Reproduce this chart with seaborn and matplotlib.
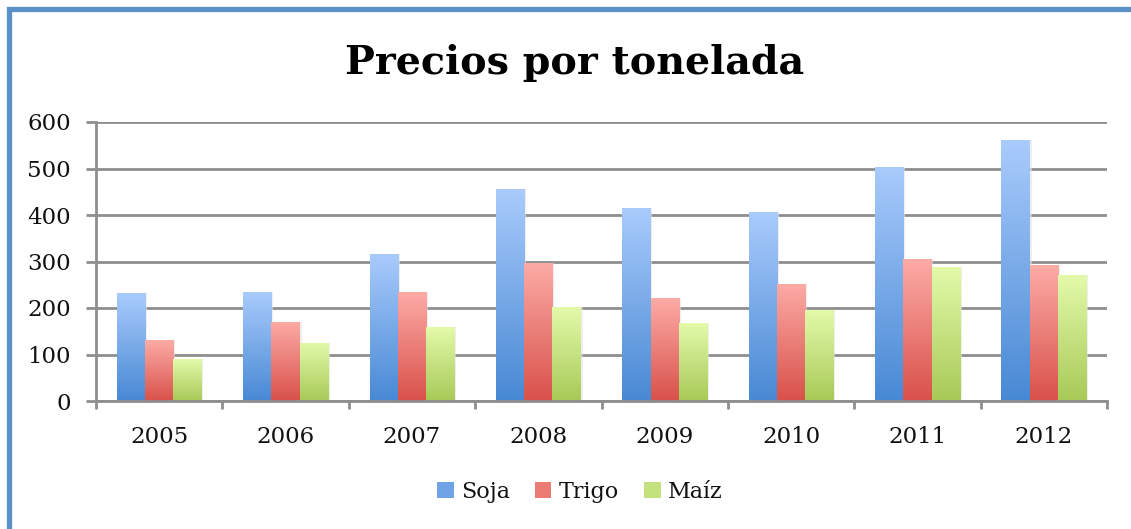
import numpy as np
import pandas as pd
import matplotlib
matplotlib.use("Agg")
import matplotlib.pyplot as plt
import seaborn as sns
from matplotlib.colors import LinearSegmentedColormap
from matplotlib.patches import Patch
from matplotlib.lines import Line2D

# ---------- DATA ----------
years = ["2005", "2006", "2007", "2008", "2009", "2010", "2011", "2012"]
soja = [232, 234, 316, 455, 414, 406, 504, 561]
trigo = [131, 170, 234, 297, 221, 252, 305, 292]
maiz = [90, 125, 159, 202, 167, 195, 288, 270]
series = ["Soja", "Trigo", "Maíz"]

df = pd.DataFrame({
    "Año": years * 3,
    "Precio": soja + trigo + maiz,
    "Cultivo": [s for s in series for _ in years],
})

# gradient colours (top, bottom, legend) per series
grad = {
    "Soja": ("#a9cbfc", "#4889d4", "#6fa3e6"),
    "Trigo": ("#fdaba6", "#d8514a", "#eb7a74"),
    "Maíz": ("#e3faaa", "#a8c957", "#c3e17c"),
}

sns.set_theme(style="white")
plt.rcParams["font.family"] = ["DejaVu Serif"]

fig = plt.figure(figsize=(11.31, 5.29), dpi=100)
ax = fig.add_axes([96 / 1131, 1 - 401 / 529, (1107 - 96) / 1131, (401 - 122) / 529])

sns.barplot(data=df, x="Año", y="Precio", hue="Cultivo", order=years,
            hue_order=series, width=0.67, ax=ax, legend=False,
            palette=[grad[s][1] for s in series], saturation=1, errorbar=None)

# ---------- gradient fill ----------
grad_img = np.linspace(1, 0, 256).reshape(-1, 1)
for i, s in enumerate(series):
    cmap = LinearSegmentedColormap.from_list(s, [grad[s][1], grad[s][0]])
    for bar in ax.patches[i * len(years):(i + 1) * len(years)]:
        x0, w, h = bar.get_x(), bar.get_width(), bar.get_height()
        # soft shadow
        ax.add_patch(plt.Rectangle((x0 + w, 0), 0.015, h, color="#e3e3e3",
                                   alpha=0.6, lw=0, zorder=1.5))
        im = ax.imshow(grad_img, cmap=cmap, aspect="auto", vmin=0, vmax=1,
                       extent=[x0, x0 + w, 0, h], zorder=2)
        im.set_clip_path(bar)
        bar.set_facecolor("none")
        bar.set_edgecolor("none")

ax.set_xlim(-0.5, 7.5)
ax.set_ylim(0, 600)
ax.set_yticks(range(0, 601, 100))
ax.set_xlabel("")
ax.set_ylabel("")

gray = "#8e8e8e"
ax.yaxis.grid(True, color=gray, lw=2)
ax.set_axisbelow(True)
for side in ["top", "right"]:
    ax.spines[side].set_visible(False)
for side in ["left", "bottom"]:
    ax.spines[side].set_color(gray)
    ax.spines[side].set_linewidth(2)

ax.set_xticks(np.arange(-0.5, 8, 1), minor=True)
ax.tick_params(axis="x", which="major", length=0, pad=18, labelsize=16.5,
               labelcolor="#111111")
ax.tick_params(axis="x", which="minor", length=6, width=2, color=gray,
               direction="out", bottom=True)
ax.tick_params(axis="y", length=7, width=2, color=gray, pad=11,
               labelsize=16.5, labelcolor="#111111", left=True)

# ---------- title ----------
fig.text(575 / 1131, 1 - 63 / 529, "Precios por tonelada", ha="center",
         va="center", fontsize=28.5, fontweight="bold", color="black")

# ---------- legend ----------
handles = [Patch(facecolor=grad[s][2], edgecolor="none", label=s) for s in series]
fig.legend(handles=handles, loc="center", bbox_to_anchor=(580 / 1131, 1 - 492 / 529),
           ncol=3, frameon=False, fontsize=16, handlelength=0.75, handleheight=0.75,
           handletextpad=0.35, columnspacing=1.1, labelcolor="#111111")

# ---------- blue frame ----------
blue = "#5b8fc8"
fig.add_artist(Line2D([8.5 / 1131, 8.5 / 1131, 1.01], [-0.01, 1 - 8.5 / 529, 1 - 8.5 / 529],
                      transform=fig.transFigure, color=blue, lw=3.8,
                      solid_joinstyle="miter"))

fig.savefig("out.png", dpi=100)
